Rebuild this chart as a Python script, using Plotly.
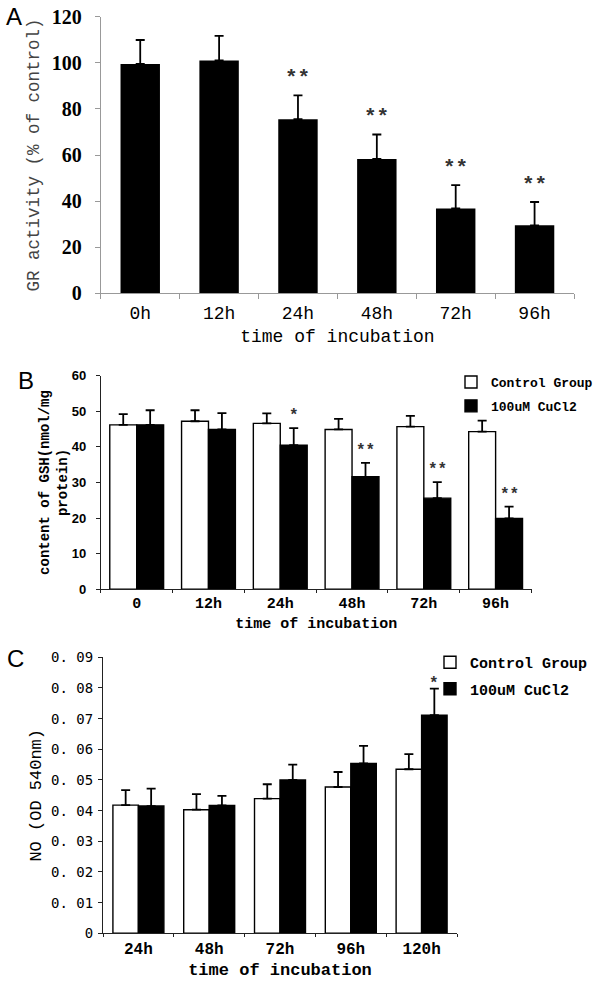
import plotly.graph_objects as go

# ---------------- data ----------------
# Panel A: GR activity (% of control)
a_cats = ["0h", "12h", "24h", "48h", "72h", "96h"]
a_vals = [99.5, 101.0, 75.5, 58.3, 36.8, 29.5]
a_sd = [10.4, 10.7, 10.4, 10.6, 10.1, 10.1]
a_sig = ["", "", "**", "**", "**", "**"]

# Panel B: GSH content (nmol/mg protein)
b_cats = ["0", "12h", "24h", "48h", "72h", "96h"]
b_ctrl = [46.2, 47.2, 46.6, 44.9, 45.7, 44.3]
b_ctrl_sd = [3.0, 3.1, 2.8, 3.0, 3.0, 3.1]
b_cu = [46.2, 44.9, 40.5, 31.6, 25.6, 19.9]
b_cu_sd = [4.1, 4.6, 4.8, 3.9, 4.5, 3.3]
b_sig = ["", "", "*", "**", "**", "**"]

# Panel C: NO (OD 540nm)
c_cats = ["24h", "48h", "72h", "96h", "120h"]
c_ctrl = [0.0418, 0.0403, 0.0439, 0.0477, 0.0535]
c_ctrl_sd = [0.0049, 0.0051, 0.0047, 0.0049, 0.0049]
c_cu = [0.0415, 0.0417, 0.0500, 0.0554, 0.0711]
c_cu_sd = [0.0057, 0.0031, 0.0050, 0.0057, 0.0087]
c_sig = ["", "", "", "", "*"]
c_ticks = [0, 0.01, 0.02, 0.03, 0.04, 0.05, 0.06, 0.07, 0.08, 0.09]
c_ticktext = ["0", "0. 01", "0. 02", "0. 03", "0. 04", "0. 05", "0. 06", "0. 07", "0. 08", "0. 09"]

series_names = ["Control Group", "100uM CuCl2"]

# ---------------- layout helpers ----------------
W, H = 600, 981
MONO = "Liberation Mono"

A_X = (100.8, 574.0)
A_Y = (16.7, 293.3)
B_X = (100.8, 531.5)
B_Y = (375.7, 589.3)
C_X = (103.0, 457.0)
C_Y = (657.3, 933.3)


def xd(p):
    return [p[0] / W, p[1] / W]


def yd(p):
    return [1 - p[1] / H, 1 - p[0] / H]


def err(sd, color="black"):
    return dict(type="data", array=sd, arrayminus=[0] * len(sd), symmetric=False,
                color=color, thickness=1.8, width=4.5)


fig = go.Figure()

# Panel A
fig.add_trace(go.Bar(x=a_cats, y=a_vals, width=0.5, marker=dict(color="black", line=dict(width=0)),
                     error_y=err(a_sd), xaxis="x", yaxis="y", showlegend=False))

# Panel B
bw_b = 0.375
fig.add_trace(go.Bar(x=b_cats, y=b_ctrl, width=bw_b, offset=-bw_b, name=series_names[0],
                     marker=dict(color="white", line=dict(color="black", width=1.4)),
                     error_y=err(b_ctrl_sd), xaxis="x2", yaxis="y2", legend="legend",
                     legendgroup="g1"))
fig.add_trace(go.Bar(x=b_cats, y=b_cu, width=bw_b, offset=0, name=series_names[1],
                     marker=dict(color="black", line=dict(color="black", width=1.4)),
                     error_y=err(b_cu_sd), xaxis="x2", yaxis="y2", legend="legend",
                     legendgroup="g2"))

# Panel C
bw_c = 0.36
fig.add_trace(go.Bar(x=c_cats, y=c_ctrl, width=bw_c, offset=-bw_c, name=series_names[0],
                     marker=dict(color="white", line=dict(color="black", width=1.4)),
                     error_y=err(c_ctrl_sd), xaxis="x3", yaxis="y3", legend="legend2",
                     legendgroup="h1"))
fig.add_trace(go.Bar(x=c_cats, y=c_cu, width=bw_c, offset=0, name=series_names[1],
                     marker=dict(color="black", line=dict(color="black", width=1.4)),
                     error_y=err(c_cu_sd), xaxis="x3", yaxis="y3", legend="legend2",
                     legendgroup="h2"))

annotations = []
# significance marks
for c, v, s, m in zip(a_cats, a_vals, a_sd, a_sig):
    if m:
        annotations.append(dict(x=c, y=v + s, xref="x", yref="y", text=m, showarrow=False,
                                yanchor="middle", yshift=17,
                                font=dict(family=MONO, size=21, color="#333", weight="bold")))
b_shift = bw_b / 2 * (B_X[1] - B_X[0]) / len(b_cats)
for c, v, s, m in zip(b_cats, b_cu, b_cu_sd, b_sig):
    if m:
        annotations.append(dict(x=c, y=v + s, xref="x2", yref="y2", text=m, showarrow=False,
                                yanchor="middle", xshift=b_shift, yshift=12,
                                font=dict(family=MONO, size=16, color="#333", weight="bold")))
c_shift = bw_c / 2 * (C_X[1] - C_X[0]) / len(c_cats)
for c, v, s, m in zip(c_cats, c_cu, c_cu_sd, c_sig):
    if m:
        annotations.append(dict(x=c, y=v + s, xref="x3", yref="y3", text=m, showarrow=False,
                                yanchor="middle", xshift=c_shift, yshift=5,
                                font=dict(family=MONO, size=16, color="#333", weight="bold")))

# panel letters
for letter, px, py in [("A", 14, 17), ("B", 26, 380), ("C", 15, 658)]:
    annotations.append(dict(x=px / W, y=1 - py / H, xref="paper", yref="paper", text=letter,
                            showarrow=False, xanchor="center", yanchor="middle",
                            font=dict(family="Liberation Sans", size=24, color="black")))

common_x = dict(type="category", showline=True, showgrid=False, zeroline=False,
                ticks="outside", tickson="boundaries", automargin=False)
common_y = dict(showline=True, showgrid=False, zeroline=False, ticks="outside", automargin=False)

fig.update_layout(
    width=W, height=H,
    margin=dict(l=0, r=0, t=0, b=0),
    paper_bgcolor="white", plot_bgcolor="white",
    barmode="overlay",
    annotations=annotations,
    # A
    xaxis=dict(common_x, domain=xd(A_X), anchor="y", range=[-0.5, 5.5],
               linecolor="#999", tickcolor="#999", ticklen=5, ticklabelstandoff=3,
               tickfont=dict(family=MONO, size=18, color="black"),
               title=dict(text="time of incubation", standoff=6,
                          font=dict(family=MONO, size=18, color="black"))),
    yaxis=dict(common_y, domain=yd(A_Y), anchor="x", range=[0, 120], dtick=20,
               linecolor="#999", tickcolor="#999", ticklen=5, ticklabelstandoff=9,
               tickfont=dict(family="Liberation Serif", size=20, color="black", weight="bold"),
               title=dict(text="GR activity (% of control)", standoff=7,
                          font=dict(family=MONO, size=17.5, color="#444"))),
    # B
    xaxis2=dict(common_x, domain=xd(B_X), anchor="y2", range=[-0.5, 5.5],
                linecolor="#222", tickcolor="#222", ticklen=3,
                tickfont=dict(family=MONO, size=15, color="black", weight="bold"),
                title=dict(text="time of incubation", standoff=5,
                           font=dict(family=MONO, size=15, color="black", weight="bold"))),
    yaxis2=dict(common_y, domain=yd(B_Y), anchor="x2", range=[0, 60], dtick=10,
                linecolor="#222", tickcolor="#222", ticklen=4, ticklabelstandoff=7,
                tickfont=dict(family="Liberation Sans", size=13, color="black", weight="bold"),
                title=dict(text="content of GSH(nmol/mg<br>protein)", standoff=0,
                           font=dict(family=MONO, size=14, color="black", weight="bold"))),
    # C
    xaxis3=dict(common_x, domain=xd(C_X), anchor="y3", range=[-0.5, 4.5],
                linecolor="#222", tickcolor="#222", ticklen=3,
                tickfont=dict(family=MONO, size=16, color="black", weight="bold"),
                title=dict(text="time of incubation", standoff=5,
                           font=dict(family=MONO, size=17, color="black", weight="bold"))),
    yaxis3=dict(common_y, domain=yd(C_Y), anchor="x3", range=[0, 0.09],
                tickvals=c_ticks, ticktext=c_ticktext,
                linecolor="#222", tickcolor="#222", ticklen=4, ticklabelstandoff=2,
                tickfont=dict(family="DejaVu Sans Mono", size=14, color="black"),
                title=dict(text="NO (OD 540nm)", standoff=5,
                           font=dict(family=MONO, size=17, color="black"))),
    legend=dict(x=451 / W, y=1 - 367 / H, xanchor="left", yanchor="top",
                bgcolor="rgba(0,0,0,0)", tracegroupgap=4, itemwidth=30,
                font=dict(family=MONO, size=13, color="black", weight="bold")),
    legend2=dict(x=430 / W, y=1 - 646 / H, xanchor="left", yanchor="top",
                 bgcolor="rgba(0,0,0,0)", tracegroupgap=4, itemwidth=30,
                 font=dict(family=MONO, size=15, color="black", weight="bold")),
)

fig.write_html("out.html", config={"displayModeBar": False},
               post_script="document.body.style.margin='0px';")
